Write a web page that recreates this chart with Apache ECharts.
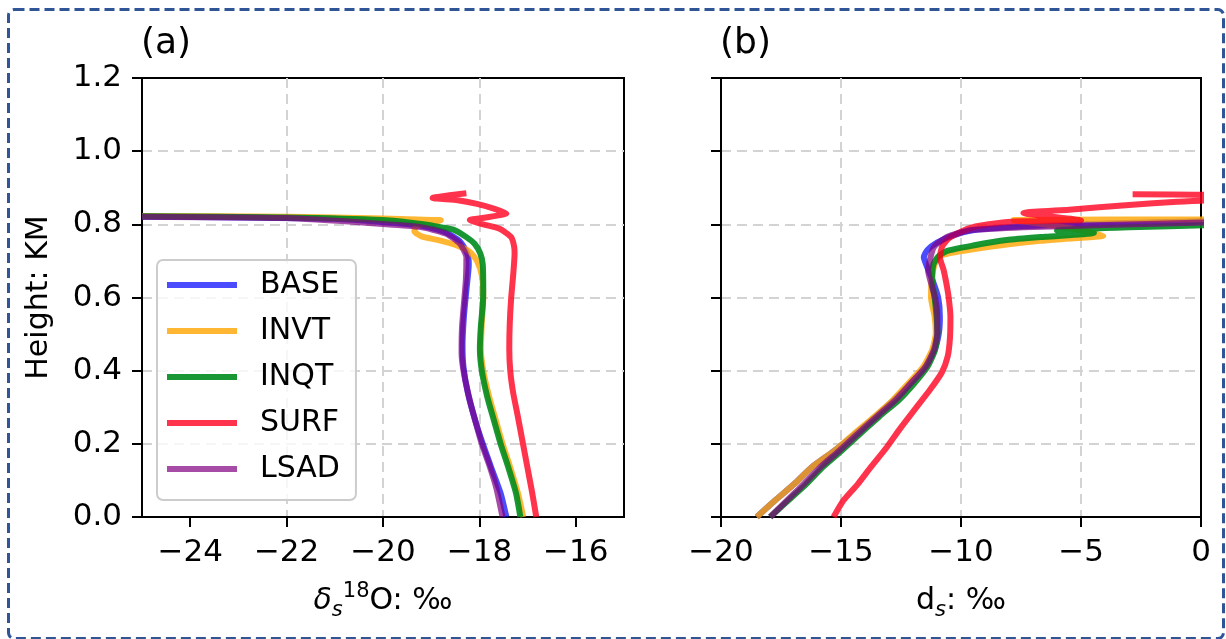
<!DOCTYPE html>
<html>
<head>
<meta charset="utf-8">
<script src="https://cdn.jsdelivr.net/npm/echarts@6/dist/echarts.min.js"></script>
<style>
  html, body { margin: 0; padding: 0; background: #fff; }
  #chart { width: 1226px; height: 639px; }
</style>
</head>
<body>
<div id="chart"></div>
<script>
// Experiment names and colours
const names = ['BASE', 'INVT', 'INQT', 'SURF', 'LSAD'];
const colors = ['rgba(0,0,255,0.7)', 'rgba(255,165,0,0.8)', 'rgba(0,140,30,0.9)', 'rgba(255,0,30,0.8)', 'rgba(128,0,128,0.7)'];

// Tick values
const yTicks = [0, 0.2, 0.4, 0.6, 0.8, 1.0, 1.2];
const xTicksA = [-24, -22, -20, -18, -16];
const xTicksB = [-20, -15, -10, -5, 0];

// Panel (a): δs18O (‰) vs height (km), [x, height]
const baseA = [[-25,0.821],[-23,0.819],[-21,0.815],[-20,0.806],[-19.2,0.796],[-18.7,0.778],[-18.4,0.753],[-18.25,0.72],[-18.22,0.69],[-18.27,0.62],[-18.32,0.55],[-18.35,0.47],[-18.33,0.41],[-18.24,0.34],[-18.1,0.27],[-17.93,0.20],[-17.74,0.13],[-17.56,0.065],[-17.44,0.0]];
const invtA = [[-25,0.823],[-22,0.821],[-20,0.816],[-19.3,0.813],[-18.8,0.811],[-19.3,0.797],[-19.35,0.781],[-19.2,0.767],[-18.85,0.757],[-18.48,0.743],[-18.2,0.725],[-18.05,0.70],[-17.95,0.66],[-17.92,0.60],[-17.95,0.53],[-17.97,0.46],[-17.92,0.40],[-17.8,0.33],[-17.65,0.26],[-17.52,0.20],[-17.37,0.14],[-17.2,0.065],[-17.09,0.0]];
const inqtA = [[-25,0.822],[-22,0.819],[-20,0.812],[-19.2,0.801],[-18.75,0.791],[-18.51,0.784],[-18.27,0.765],[-18.1,0.747],[-17.98,0.72],[-17.93,0.69],[-17.92,0.62],[-17.93,0.58],[-17.97,0.52],[-17.99,0.46],[-17.95,0.40],[-17.84,0.33],[-17.69,0.26],[-17.56,0.20],[-17.41,0.14],[-17.24,0.065],[-17.15,0.0]];
const surfA = [[-18.27,0.885],[-18.97,0.872],[-18.45,0.866],[-18.05,0.856],[-17.7,0.843],[-17.44,0.830],[-17.9,0.818],[-18.2,0.812],[-17.92,0.800],[-17.58,0.788],[-17.34,0.765],[-17.28,0.74],[-17.27,0.72],[-17.3,0.66],[-17.34,0.60],[-17.37,0.53],[-17.38,0.46],[-17.36,0.40],[-17.3,0.34],[-17.21,0.28],[-17.11,0.21],[-17.01,0.14],[-16.91,0.07],[-16.82,0.0]];
const lsadA = [[-25,0.821],[-22,0.817],[-20,0.801],[-19.24,0.793],[-18.7,0.775],[-18.41,0.748],[-18.27,0.71],[-18.28,0.65],[-18.31,0.60],[-18.36,0.52],[-18.37,0.45],[-18.33,0.40],[-18.22,0.33],[-18.08,0.26],[-17.95,0.20],[-17.79,0.14],[-17.65,0.08],[-17.52,0.0]];

// Panel (b): ds (‰) vs height (km), [x, height]
const baseB = [[-18.51,0],[-17.75,0.045],[-16.95,0.09],[-16.2,0.137],[-15.3,0.18],[-14.45,0.225],[-13.55,0.275],[-12.8,0.319],[-12.1,0.365],[-11.5,0.41],[-11.1,0.457],[-10.92,0.503],[-10.88,0.548],[-10.95,0.6],[-11.2,0.65],[-11.45,0.69],[-11.55,0.71],[-11.4,0.73],[-11.0,0.75],[-10.4,0.768],[-9.5,0.784],[-7,0.796],[-4,0.802],[0.5,0.809]];
const invtB = [[-18.51,0],[-17.75,0.045],[-16.95,0.09],[-16.2,0.137],[-15.3,0.18],[-14.5,0.225],[-13.6,0.275],[-12.85,0.319],[-12.2,0.365],[-11.58,0.41],[-11.2,0.457],[-11.05,0.503],[-11.1,0.548],[-11.25,0.6],[-11.22,0.65],[-11.1,0.69],[-10.9,0.712],[-10.4,0.722],[-9.5,0.732],[-8.1,0.745],[-6.7,0.755],[-5.3,0.762],[-4.07,0.769],[-5.5,0.79],[-7.8,0.812],[0.5,0.813]];
const inqtB = [[-17.95,0],[-17.2,0.045],[-16.45,0.09],[-15.75,0.137],[-15.0,0.18],[-14.25,0.225],[-13.4,0.275],[-12.6,0.319],[-11.95,0.365],[-11.4,0.41],[-11.08,0.457],[-10.98,0.503],[-11.02,0.548],[-11.1,0.6],[-11.2,0.65],[-11.15,0.69],[-10.95,0.712],[-10.6,0.727],[-9.5,0.742],[-8.1,0.757],[-6.5,0.766],[-4.46,0.776],[-6.0,0.783],[-3,0.792],[0.5,0.798]];
const surfB = [[-15.31,0],[-14.9,0.045],[-14.3,0.09],[-13.75,0.137],[-13.1,0.19],[-12.5,0.245],[-11.95,0.292],[-11.3,0.347],[-10.8,0.395],[-10.55,0.44],[-10.46,0.49],[-10.44,0.548],[-10.5,0.593],[-10.58,0.628],[-10.72,0.674],[-10.88,0.71],[-10.78,0.74],[-10.5,0.762],[-10.0,0.78],[-9.4,0.794],[-8.5,0.803],[-7.8,0.808],[-5.0,0.811],[-7.4,0.831],[-5.5,0.84],[-3,0.853],[-1,0.862],[0.5,0.868],[0.5,0.88],[-2.85,0.882]];
const lsadB = [[-17.95,0],[-17.26,0.045],[-16.55,0.09],[-15.85,0.137],[-15.1,0.18],[-14.35,0.225],[-13.5,0.275],[-12.74,0.319],[-12.1,0.365],[-11.48,0.41],[-11.13,0.457],[-10.99,0.503],[-10.99,0.548],[-11.06,0.593],[-11.2,0.628],[-11.37,0.674],[-11.27,0.71],[-11.13,0.738],[-10.6,0.765],[-10.0,0.778],[-9.47,0.785],[-7,0.793],[-4,0.798],[0.5,0.806]];

const panelA = [baseA, invtA, inqtA, surfA, lsadA];
const panelB = [baseB, invtB, inqtB, surfB, lsadB];

const FONT = 'DejaVu Sans';
const minus = v => (v < 0 ? '\u2212' : '') + Math.abs(v);
const gridLine = { show: true, showMinLine: false, showMaxLine: false, lineStyle: { color: '#d3d3d3', width: 2, type: [10, 6] } };

function xAxisFor(gridIndex, min, max, ticks, name, rich) {
  return {
    type: 'value', gridIndex, min, max,
    axisLine: { show: true, onZero: false, lineStyle: { color: '#000', width: 2 } },
    axisTick: { show: true, inside: false, length: 10, customValues: ticks, lineStyle: { color: '#000', width: 2 } },
    axisLabel: { customValues: ticks, formatter: minus, fontSize: 31, fontFamily: FONT, color: '#000', margin: 20 },
    splitLine: gridLine,
    name, nameLocation: 'middle', nameGap: 64,
    nameTextStyle: { fontSize: 30, fontFamily: FONT, color: '#000', rich }
  };
}

function yAxisFor(gridIndex, showLabels) {
  return {
    type: 'value', gridIndex, min: 0, max: 1.2, interval: 0.2,
    axisLine: { show: true, onZero: false, lineStyle: { color: '#000', width: 2 } },
    axisTick: { show: true, inside: false, length: 10, lineStyle: { color: '#000', width: 2 } },
    axisLabel: { show: showLabels, formatter: v => v.toFixed(1), fontSize: 31, fontFamily: FONT, color: '#000', margin: 20 },
    splitLine: gridLine,
    name: showLabels ? 'Height: KM' : '', nameLocation: 'middle', nameGap: 88, nameRotate: 90,
    nameTextStyle: { fontSize: 30, fontFamily: FONT, color: '#000' }
  };
}

const richBase = {
  n: { fontSize: 30, fontFamily: FONT, color: '#000', lineHeight: 40 },
  i: { fontSize: 30, fontFamily: FONT, color: '#000', lineHeight: 40, fontStyle: 'italic' },
  sub: { fontSize: 21, fontFamily: FONT, color: '#000', lineHeight: 22, fontStyle: 'italic', verticalAlign: 'bottom' },
  sup: { fontSize: 21, fontFamily: FONT, color: '#000', lineHeight: 22, verticalAlign: 'top' }
};

const series = [];
panelA.forEach((d, k) => series.push({
  name: names[k], type: 'line', xAxisIndex: 0, yAxisIndex: 0, data: d,
  showSymbol: false, smooth: 0.2, clip: true, color: colors[k],
  lineStyle: { width: 6, color: colors[k], join: 'round' }
}));
panelB.forEach((d, k) => series.push({
  name: names[k], type: 'line', xAxisIndex: 1, yAxisIndex: 1, data: d,
  showSymbol: false, smooth: 0.2, clip: true, color: colors[k],
  lineStyle: { width: 6, color: colors[k], join: 'round' }
}));

const chart = echarts.init(document.getElementById('chart'), null, { renderer: 'canvas' });
chart.setOption({
  backgroundColor: '#fff',
  animation: false,
  title: [
    { text: '(a)', left: 141, top: 26, padding: 0, textStyle: { fontSize: 36, fontWeight: 'normal', fontFamily: FONT, color: '#000' } },
    { text: '(b)', left: 720, top: 26, padding: 0, textStyle: { fontSize: 36, fontWeight: 'normal', fontFamily: FONT, color: '#000' } }
  ],
  grid: [
    { left: 142, top: 78, width: 482, height: 439, show: true, borderColor: '#000', borderWidth: 2, backgroundColor: 'transparent' },
    { left: 721, top: 78, width: 480, height: 439, show: true, borderColor: '#000', borderWidth: 2, backgroundColor: 'transparent' }
  ],
  xAxis: [
    xAxisFor(0, -25, -15, xTicksA, '{i|δ}{sub|s}{sup|18}{n|O: ‰}', richBase),
    xAxisFor(1, -20, 0, xTicksB, '{n|d}{sub|s}{n|: ‰}', richBase)
  ],
  yAxis: [yAxisFor(0, true), yAxisFor(1, false)],
  legend: {
    data: names, orient: 'vertical', left: 157, top: 260,
    icon: 'rect', itemWidth: 70, itemHeight: 6, itemGap: 16,
    padding: [10, 16, 16, 10],
    backgroundColor: 'rgba(255,255,255,0.8)', borderColor: '#cccccc', borderWidth: 2, borderRadius: 6,
    textStyle: { fontSize: 30, fontFamily: FONT, color: '#000', lineHeight: 30, padding: [0, 0, 0, 18] }
  },
  graphic: [{
    type: 'rect', left: 6, top: 7, z: 100, silent: true,
    shape: { width: 1215, height: 629, r: 6 },
    style: { fill: 'none', stroke: '#2f5597', lineWidth: 3, lineDash: [10, 5] }
  }],
  series
});
</script>
</body>
</html>
